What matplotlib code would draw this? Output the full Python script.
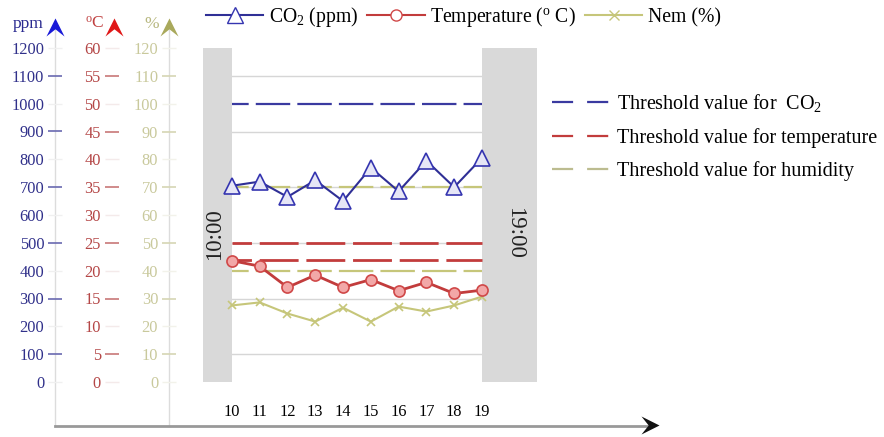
import numpy as np
import matplotlib.pyplot as plt
from matplotlib.lines import Line2D
from matplotlib.path import Path

plt.rcParams['font.family'] = ['Liberation Serif', 'DejaVu Serif']
plt.rcParams['mathtext.fontset'] = 'custom'
plt.rcParams['mathtext.rm'] = 'Liberation Serif'
plt.rcParams['mathtext.it'] = 'Liberation Serif:italic'

# data
hours = [10, 11, 12, 13, 14, 15, 16, 17, 18, 19]
co2_ppm = [705, 720, 665, 725, 650, 770, 685, 795, 700, 805]
temp_c = [21.8, 20.8, 17.0, 19.2, 17.0, 18.4, 16.4, 17.9, 15.9, 16.5]
humid_pct = [27.5, 28.6, 24.6, 21.7, 26.7, 21.7, 27.1, 25.3, 27.5, 30.7]
co2_limit = [1000]
temp_limits = [25, 22]
humid_limits = [40, 70]

ppm_ticks = list(range(0, 1201, 100))
degc_ticks = list(range(0, 61, 5))
pct_ticks = list(range(0, 121, 10))

W, H = 884, 437
fig = plt.figure(figsize=(W / 100, H / 100), dpi=100)

c_blue = '#2f2f96'
c_red = '#c23c3c'
c_olive = '#c6c67a'

# plot area in pixels
x0, x1 = 203, 537
ytop, ybot = 48, 382
b = (H - ybot) / H
h = (ybot - ytop) / H
rect = [x0 / W, b, (x1 - x0) / W, h]

xl = (8.96, 20.98)
dash_main = (8, (15.5, 3.2))

# base axes: humidity, grey bands and grid
ax_h = fig.add_axes(rect, zorder=1)
ax_h.set_xlim(*xl)
ax_h.set_ylim(0, 120)
for s in ax_h.spines.values():
    s.set_visible(False)
ax_h.axvspan(xl[0], hours[0], color='#d9d9d9', zorder=2, lw=0)
ax_h.axvspan(hours[-1], xl[1], color='#d9d9d9', zorder=2, lw=0)
ax_h.set_yticks(list(range(10, 120, 20)))
ax_h.set_yticklabels([])
ax_h.set_xticks(hours)
ax_h.set_xticks([12, 14, 16, 18], minor=True)
ax_h.tick_params(axis='both', which='both', length=0)
ax_h.tick_params(axis='x', pad=16, labelsize=11.8)
ax_h.grid(axis='y', which='major', color='#d6d6d6', lw=1, zorder=1)
ax_h.grid(axis='x', which='minor', color='#d6d6d6', lw=1, zorder=1)
ax_h.hlines(humid_limits, hours[0], hours[-1], colors=c_olive, lw=1.6,
            linestyles=dash_main, zorder=3)
ax_h.plot(hours, humid_pct, color=c_olive, lw=1.5, marker='x', ms=6,
          mew=1.2, zorder=4)
ax_h.text(9.37, 53.1, '10:00', rotation=90, ha='center', va='center',
          fontsize=16.5, color='#222222', zorder=5)
ax_h.text(20.16, 53.5, '19:00', rotation=270, ha='center', va='center',
          fontsize=16.5, color='#222222', zorder=5)

# temperature
ax_t = ax_h.twinx()
ax_t.set_zorder(2)
ax_t.set_ylim(0, 60)
ax_t.axis('off')
ax_t.hlines(temp_limits, hours[0], hours[-1], colors=c_red, lw=2,
            linestyles=(7, (14, 2.8)))
ax_t.plot(hours, temp_c, color=c_red, lw=2, marker='o', ms=8,
          mfc='#f2a8a8', mec='#d04848', mew=1.2)

# CO2
ax_c = ax_h.twinx()
ax_c.set_zorder(3)
ax_c.set_ylim(0, 1200)
ax_c.axis('off')
ax_c.hlines(co2_limit, hours[0], hours[-1], colors='#3a3aa0', lw=1.6,
            linestyles=dash_main)
ax_c.plot(hours, co2_ppm, color=c_blue, lw=1.5, marker='^', ms=11,
          mfc='#e6e6f6', mec='#3535b0', mew=1.2)

# decorations in pixel coords
bg = fig.add_axes([0, 0, 1, 1], zorder=0)
bg.set_xlim(0, W)
bg.set_ylim(H, 0)
bg.axis('off')
bg.plot([55, 55], [426, 24], color='#dcdcdc', lw=1)
bg.plot([169, 169], [426, 24], color='#dcdcdc', lw=1)
bg.plot([55, 648], [426, 426], color='#999999', lw=2)

up = Path([(0, 0.5), (0.5, -0.5), (0, -0.1), (-0.5, -0.5), (0, 0.5)],
          [Path.MOVETO, Path.LINETO, Path.LINETO, Path.LINETO, Path.CLOSEPOLY])
right = Path([(0.5, 0), (-0.5, 0.5), (-0.1, 0), (-0.5, -0.5), (0.5, 0)],
             [Path.MOVETO, Path.LINETO, Path.LINETO, Path.LINETO, Path.CLOSEPOLY])
bg.plot([55], [27], marker=up, ms=13, color='#1a1ad8', mew=0)
bg.plot([114], [27], marker=up, ms=13, color='#e01818', mew=0)
bg.plot([169], [27], marker=up, ms=13, color='#a9a95c', mew=0)
bg.plot([650], [425], marker=right, ms=13, color='#111111', mew=0)

bg.text(44, 28, 'ppm', ha='right', va='baseline', fontsize=12.5, color='#2a2a90')
bg.text(104, 28, r'$^{\rm o}$C', ha='right', va='baseline', fontsize=12.5,
        color='#c04040')
bg.text(159, 28, '%', ha='right', va='baseline', fontsize=12.5, color='#b8b880')


def scale_axis(xpix, top, ticks, lab_col, tick_col, light_col):
    a = fig.add_axes([xpix / W, b, 0.0001, h], zorder=1)
    a.set_ylim(0, top)
    a.set_xticks([])
    for s in a.spines.values():
        s.set_visible(False)
    odd = ticks[1::2]
    even = ticks[0::2]
    a.set_yticks(odd)
    a.set_yticklabels([str(t) for t in odd])
    a.set_yticks(even, minor=True)
    a.set_yticklabels([str(t) for t in even], minor=True)
    a.tick_params(axis='y', which='major', direction='inout', length=9.5,
                  width=1.2, color=tick_col, pad=3.0, labelsize=11.8,
                  labelcolor=lab_col)
    a.tick_params(axis='y', which='minor', direction='inout', length=9.5,
                  width=1, color=light_col, pad=3.0, labelsize=11.8,
                  labelcolor=lab_col)
    return a


scale_axis(55, 1200, ppm_ticks, '#30308a', '#6a6ab0', '#f0f0f0')
scale_axis(111.5, 60, degc_ticks, '#b44646', '#c87878', '#f4eaea')
scale_axis(169, 120, pct_ticks, '#c9c99c', '#d6d6b4', '#f2f2ea')

# legends
top_handles = [
    Line2D([], [], color=c_blue, lw=1.5, marker='^', ms=11, mfc='white',
           mec='#3535b0'),
    Line2D([], [], color=c_red, lw=1.5, marker='o', ms=8, mfc='white',
           mec='#d04848'),
    Line2D([], [], color=c_olive, lw=1.5, marker='x', ms=7),
]
top_labels = ['CO$_2$ (ppm)', r'Temperature ($^{\rm o}$ C)', 'Nem (%)']
fig.legend(top_handles, top_labels, loc='upper left',
           bbox_to_anchor=(206 / W, 1 - 5 / H), ncol=3, frameon=False,
           fontsize=14.2, handlelength=2.9, handletextpad=0.3,
           columnspacing=0.45, borderpad=0, borderaxespad=0)

thr_dash = (0, (9.5, 6.3))
thr_handles = [
    Line2D([], [], color='#3a3aa0', lw=1.6, ls=thr_dash),
    Line2D([], [], color=c_red, lw=1.6, ls=thr_dash),
    Line2D([], [], color='#bcbc90', lw=1.6, ls=thr_dash),
]
thr_labels = ['Threshold value for  CO$_2$', 'Threshold value for temperature',
              'Threshold value for humidity']
fig.legend(thr_handles, thr_labels, loc='upper left',
           bbox_to_anchor=(552 / W, 1 - 92 / H), frameon=False,
           fontsize=14.5, handlelength=2.95, handletextpad=0.28,
           labelspacing=0.68, borderpad=0, borderaxespad=0)

fig.savefig('out.png', dpi=100, facecolor='white')
